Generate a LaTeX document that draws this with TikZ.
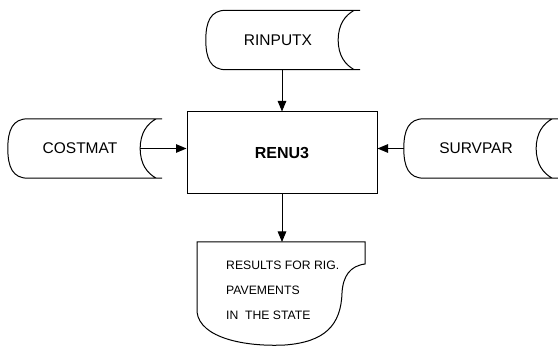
\documentclass[tikz,border=0pt]{standalone}
\usepackage{fontspec}
\setmainfont{Liberation Sans}
\usetikzlibrary{arrows.meta}

% Outline of a "stored data" symbol around a node: convex left end,
% concave right end, top and bottom lines running past the right arc.
\newcommand{\storeoutline}[1]{%
  \draw[outline]
    ([xshift=8pt]#1.north west) -- ([xshift=22pt]#1.north east)
    ([xshift=22pt]#1.south east) -- ([xshift=8pt]#1.south west)
    ([xshift=8pt]#1.north west)
      .. controls ([xshift=-7pt]#1.north west) and ([xshift=-12pt,yshift=-11pt]#1.north west)
      .. ([xshift=-12pt]#1.west)
      .. controls ([xshift=-12pt,yshift=11pt]#1.south west) and ([xshift=-7pt]#1.south west)
      .. ([xshift=8pt]#1.south west)
    ([xshift=16pt]#1.north east)
      .. controls ([xshift=7pt,yshift=-5pt]#1.north east) and ([yshift=-14pt]#1.north east)
      .. (#1.east)
      .. controls ([yshift=14pt]#1.south east) and ([xshift=7pt,yshift=5pt]#1.south east)
      .. ([xshift=16pt]#1.south east);}

\begin{document}
\begin{tikzpicture}[x=1pt,y=-1pt,
  outline/.style={line width=1pt},
  store/.style={minimum width=120pt, minimum height=59pt, inner sep=0pt,
                font=\fontsize{15.5}{18}\selectfont},
  process/.style={draw, line width=1pt, minimum width=190pt, minimum height=82pt,
                  inner sep=0pt, font=\fontsize{16}{19}\selectfont\bfseries},
  report/.style={anchor=north west, align=left, inner xsep=29pt, inner ysep=19pt,
                 font=\fontsize{12.2}{25}\selectfont},
  flow/.style={line width=1pt, -{Triangle[length=10.5pt,width=8.5pt]}},
]
\useasboundingbox (0,0) rectangle (558,347);

% data files
\node[store] (RINPUTX) at (278,40) {RINPUTX};
\node[store] (COSTMAT) at (80,148.5) {COSTMAT};
\node[store] (SURVPAR) at (476,148.5) {SURVPAR};
\storeoutline{RINPUTX}
\storeoutline{COSTMAT}
\storeoutline{SURVPAR}

% program
\node[process] (RENU3) at (282,153) {RENU3};

% printed output
\node[report] (results) at (197,242) {RESULTS FOR RIG.\\PAVEMENTS\\IN\ \ THE STATE};
\begin{scope}[shift={(results.north west)}]
  \draw[outline] (0,0) -- (168,0) -- (168,22)
    .. controls (153,24) and (146,34) .. (145,51)
    .. controls (144,83) and (128,100) .. (88,103)
    .. controls (48,105) and (3,96) .. (0,70) -- cycle;
\end{scope}

% data flow
\draw[flow] (RINPUTX.south -| RENU3.north) -- (RENU3.north);
\draw[flow] (COSTMAT.east) -- (COSTMAT.east -| RENU3.west);
\draw[flow] ([xshift=-12pt]SURVPAR.west) -- (SURVPAR.west -| RENU3.east);
\draw[flow] (RENU3.south) -- (RENU3.south |- results.north);
\end{tikzpicture}
\end{document}
